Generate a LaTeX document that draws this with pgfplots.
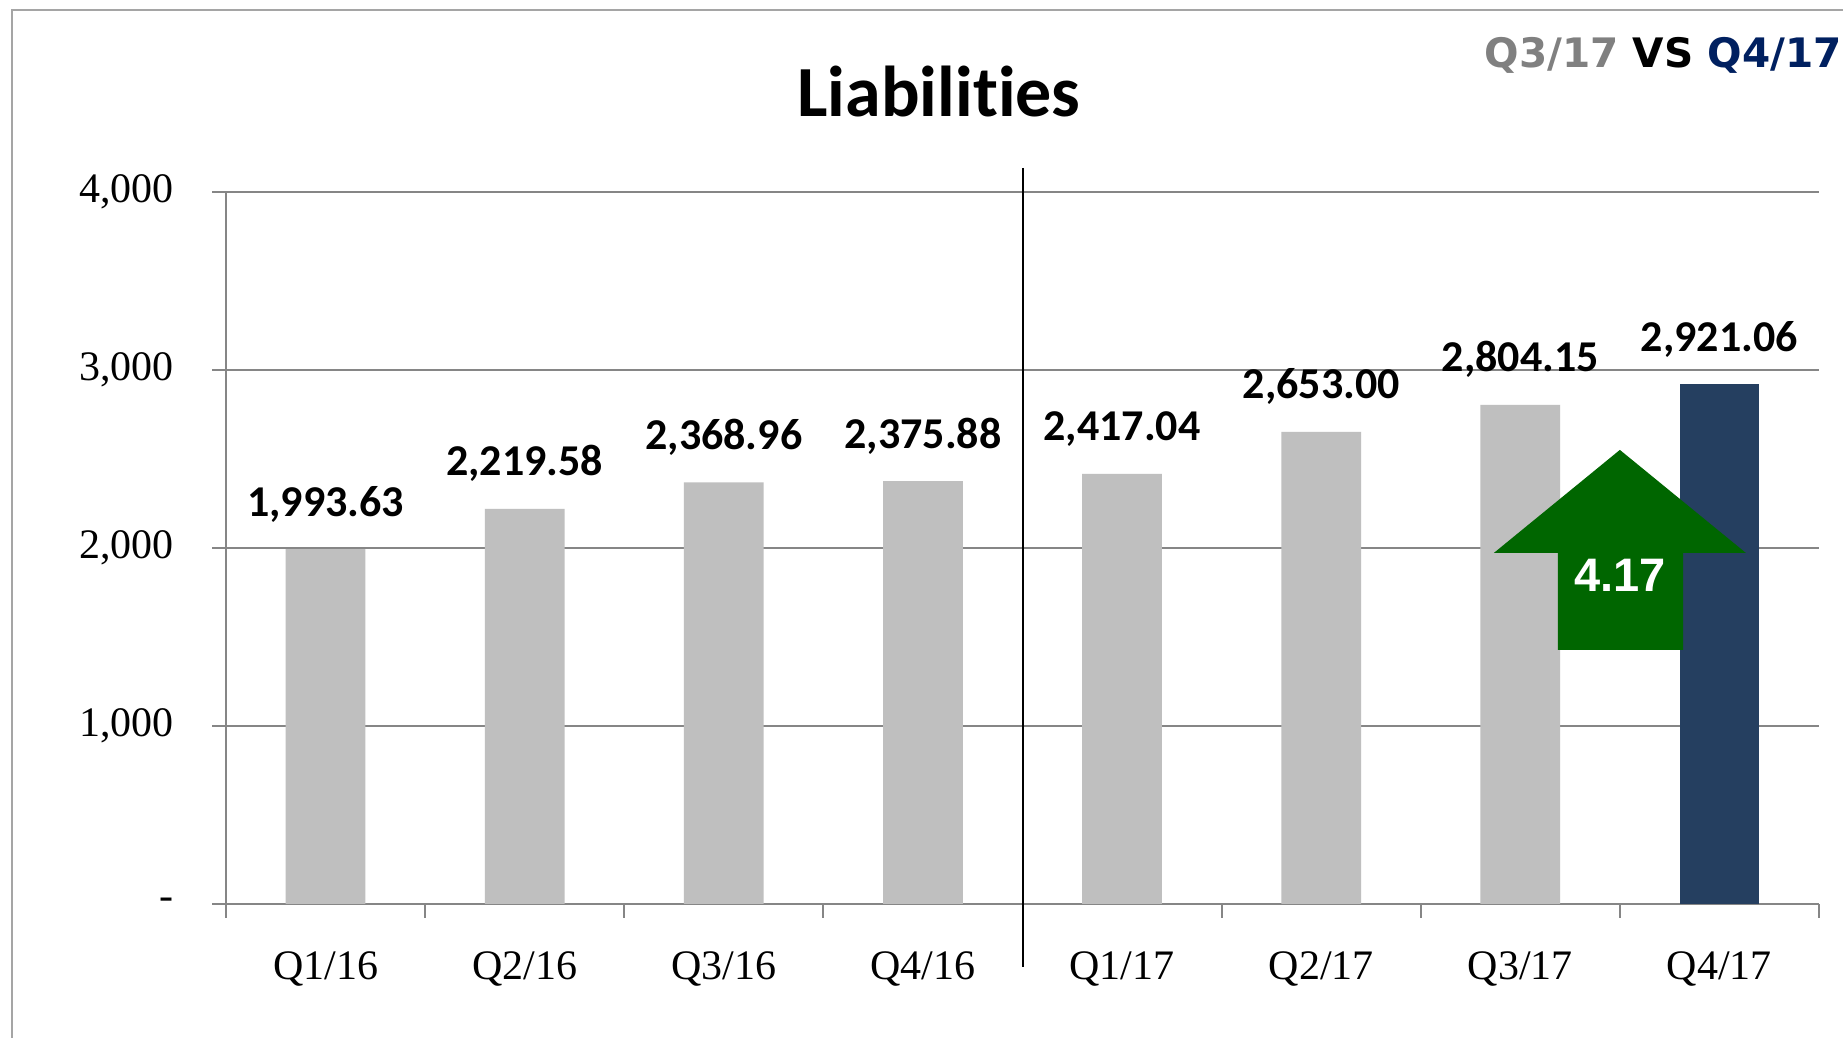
\documentclass[border=0pt]{standalone}
\usepackage{pgfplots}
\pgfplotsset{compat=1.18}
\usepackage{fontspec}
\setmainfont{Liberation Serif}
\newfontfamily\calibri[Ligatures=NoCommon]{Carlito}
\newfontfamily\tahoma{DejaVu Sans}
\newfontfamily\arial{Liberation Sans}

\definecolor{barGray}{RGB}{191,191,191}
\definecolor{barNavy}{RGB}{37,63,96}
\definecolor{arrowGreen}{RGB}{0,102,0}
\definecolor{gridGray}{RGB}{134,134,134}
\definecolor{frameGray}{RGB}{165,165,165}
\definecolor{hdrGray}{RGB}{128,128,128}
\definecolor{hdrNavy}{RGB}{0,32,96}

\begin{document}
\begin{tikzpicture}
% page = 1843 x 1038 px, 1 px = 0.5pt
\useasboundingbox (0,0) rectangle (921.5pt,519pt);
\fill[white] (0,0) rectangle (921.5pt,519pt);
\draw[frameGray, line width=1pt] (6pt,0) -- (6pt,514pt) -- (921.5pt,514pt);

\node[anchor=base east, inner sep=0pt, font=\tahoma\bfseries\fontsize{20.3pt}{20.3pt}\selectfont]
  at (921pt,485pt) {\textcolor{hdrGray}{Q3/17} VS \textcolor{hdrNavy}{Q4/17}};

\node[anchor=base, inner sep=0pt, font=\calibri\bfseries\fontsize{36pt}{36pt}\selectfont]
  at (469.5pt,460.5pt) {Liabilities};

\begin{axis}[
    at={(113pt,67pt)}, anchor=south west,
    scale only axis, width=796.5pt, height=356pt,
    xmin=-0.5, xmax=7.5, ymin=0, ymax=4000,
    axis x line*=bottom, axis y line*=left,
    axis line style={gridGray, line width=1pt},
    tick style={gridGray, line width=1pt},
    tick align=outside, major tick length=7pt,
    ytick={0,1000,2000,3000,4000},
    yticklabels={-,{1,000},{2,000},{3,000},{4,000}},
    ymajorgrids, major grid style={gridGray, line width=1pt},
    xtick={-0.5,0.5,...,7.5}, xticklabels={},
    extra x ticks={0,1,2,3,4,5,6,7},
    extra x tick labels={Q1/16,Q2/16,Q3/16,Q4/16,Q1/17,Q2/17,Q3/17,Q4/17},
    extra x tick style={major tick length=0pt, grid=none,
      xticklabel style={anchor=base, yshift=-38pt}},
    tick label style={font=\fontsize{21pt}{21pt}\selectfont},
    yticklabel style={anchor=east, inner sep=0pt, xshift=-19pt},
    ybar, bar width=0.4,
    clip=false,
    /pgf/number format/fixed,
    /pgf/number format/fixed zerofill,
    /pgf/number format/precision=2,
    /pgf/number format/1000 sep={,},
    /pgf/number format/assume math mode=true,
    nodes near coords,
    every node near coord/.append style={font=\calibri\bfseries\fontsize{22pt}{22pt}\selectfont,
      anchor=base, yshift=16.5pt, text=black},
  ]
  \addplot[fill=barGray, draw=none, bar shift=0pt] coordinates {
    (0,1993.63) (1,2219.58) (2,2368.96) (3,2375.88)
    (4,2417.04) (5,2653.00) (6,2804.15)
  };
  \addplot[fill=barNavy, draw=none, bar shift=0pt] coordinates {
    (7,2921.06)
  };
  \draw[black, line width=1pt] (axis cs:3.5,4135) -- (axis cs:3.5,-354);
  \fill[arrowGreen] (axis cs:6.5,2551) -- (axis cs:7.133,1972) -- (axis cs:6.817,1972)
    -- (axis cs:6.817,1427) -- (axis cs:6.188,1427) -- (axis cs:6.188,1972)
    -- (axis cs:5.867,1972) -- cycle;
  \node[anchor=base, inner sep=0pt, text=white,
    font=\arial\bfseries\fontsize{23.5pt}{23.5pt}\selectfont]
    at (axis cs:6.5,1753) {4.17};
\end{axis}
\end{tikzpicture}
\end{document}
